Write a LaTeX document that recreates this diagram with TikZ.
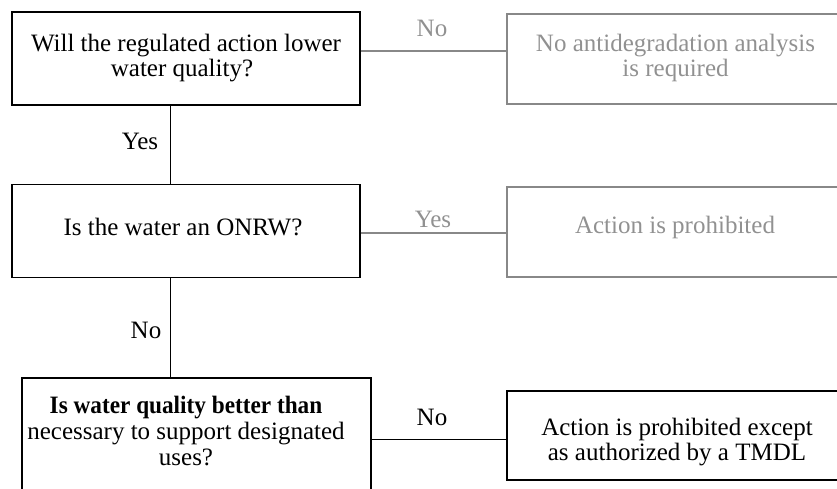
\documentclass[tikz,border=0pt]{standalone}
\usepackage{fontspec}
\setmainfont{Liberation Serif}
\definecolor{greyline}{RGB}{136,136,136}
\definecolor{greytext}{RGB}{145,145,145}
\begin{document}
\begin{tikzpicture}[x=1pt,y=-1pt,
  every node/.style={font=\fontsize{25}{25.5}\selectfont},
  qbox/.style={draw=black, line width=1.4pt, minimum width=348pt, minimum height=93pt, inner sep=0pt},
  gbox/.style={draw=greyline, line width=1.2pt, minimum width=336pt, minimum height=90pt, inner sep=0pt},
  conn/.style={draw=black, line width=1.3pt},
  gconn/.style={draw=greyline, line width=1.2pt},
  txt/.style={inner sep=0pt, anchor=base},
  gtxt/.style={inner sep=0pt, anchor=base, text=greytext}]
\clip (0,0) rectangle (837,489);
% boxes
\node[qbox] (q1) at (186,58.5) {};
\node[qbox] (q2) at (186,231) {};
\node[qbox, minimum width=349pt, minimum height=130pt] (q3) at (196.5,443) {};
\node[gbox] (g1) at (675,59) {};
\node[gbox] (g2) at (675,232) {};
\node[qbox, minimum width=336pt, minimum height=89pt] (r3) at (675,435.5) {};
% box texts
\node[txt] (q1a) at (186,52) {Will the regulated action lower};
\node[txt] (q1b) at (182,77) {water quality?};
\node[txt] (q2a) at (183,235) {Is the water an ONRW?};
\node[txt] (q3a) at (186,413) {\scalebox{0.93}[1]{\bfseries Is water quality better than}};
\node[txt] (q3b) at (186,439) {necessary to support designated};
\node[txt] (q3c) at (186,465) {uses?};
\node[gtxt] (g1a) at (675.5,52) {No antidegradation analysis};
\node[gtxt] (g1b) at (675.5,77) {is required};
\node[gtxt] (g2a) at (675,233) {Action is prohibited};
\node[txt] (r3a) at (677,435) {Action is prohibited except};
\node[txt] (r3b) at (677,460) {as authorized by a TMDL};
% connectors
\draw[gconn] ([yshift=7.5pt]q1.east) -- ([yshift=7.5pt]q1.east -| g1.west);
\draw[gconn] ([yshift=-2pt]q2.east) -- ([yshift=-2pt]q2.east -| g2.west);
\draw[conn] ([xshift=-15.5pt]q1.south) -- ([xshift=-15.5pt]q2.north);
\draw[conn] ([xshift=-15.5pt]q2.south) -- ([xshift=-15.5pt]q2.south |- q3.north);
\draw[conn] ([yshift=3.5pt]q3.east) -- ([yshift=3.5pt]q3.east -| r3.west);
% connector labels
\node[gtxt] (lno1) at (432,37) {No};
\node[gtxt] (lyes2) at (433,227) {Yes};
\node[txt] (lyes1) at (140,150) {Yes};
\node[txt] (lno2) at (146,338) {No};
\node[txt] (lno3) at (432,425) {No};
\end{tikzpicture}
\end{document}
